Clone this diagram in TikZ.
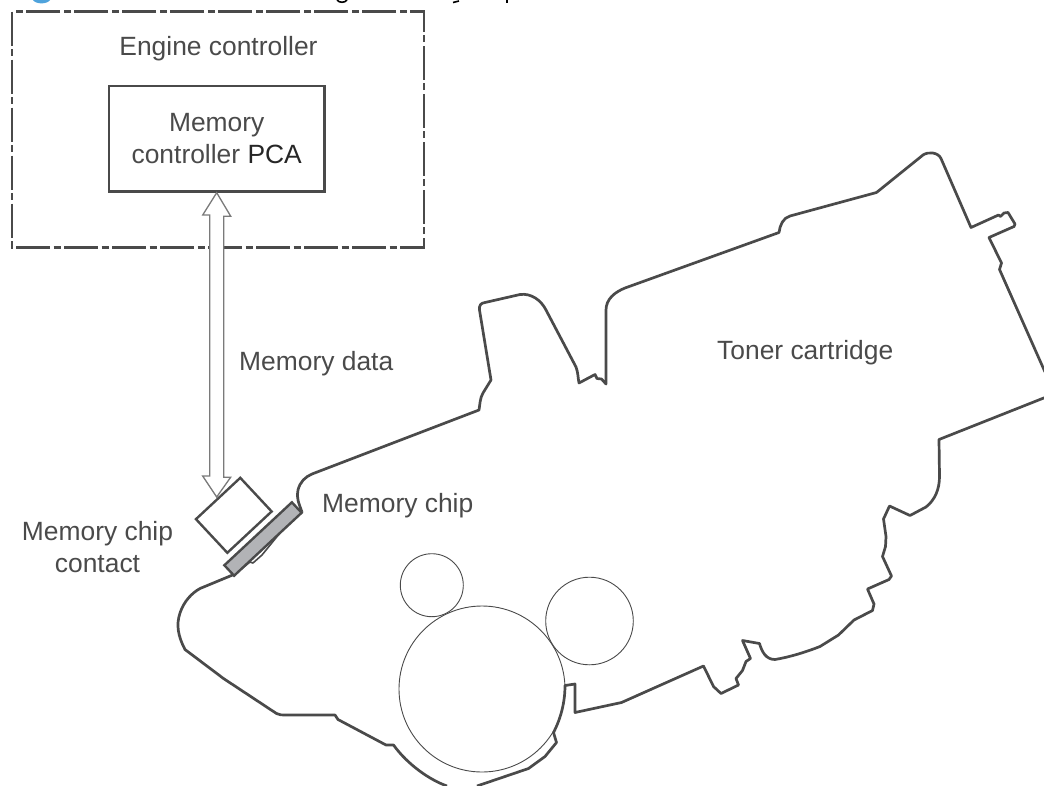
\documentclass[tikz,border=0pt]{standalone}
\usepackage{fontspec}
\setmainfont{Liberation Sans}
\usepackage{xcolor}
\definecolor{inkgray}{HTML}{4A4A4A}
\definecolor{chipgray}{HTML}{B2B3B6}
\definecolor{arrowgray}{HTML}{7A7A7A}
\definecolor{iconblue}{HTML}{4FA3DC}
\tikzset{
	label text/.style={text=inkgray,font=\fontsize{26.4}{32}\selectfont,inner sep=0pt},
	outline/.style={draw=inkgray,line width=2.7pt,line join=round},
	roller/.style={circle,draw=inkgray,line width=0.9pt,inner sep=0pt},
	flow arrow/.style={draw=arrowgray,line width=1.3pt,fill=white,line join=miter},
	engine box/.style={draw=inkgray,line width=2.8pt,dash pattern=on 34pt off 3.5pt on 7pt off 3.5pt},
}
\begin{document}
\begin{tikzpicture}[x=1pt,y=-1pt]
		\useasboundingbox (0,0) rectangle (1044,785);
		\clip (0,0) rectangle (1044,785);
		%
		% remains of the cut off title line
		\fill[iconblue] (33,0) .. controls (36,4.5) and (47,4.5) .. (50,0) -- cycle;
		\draw[black,line width=1.6pt] (337,0) .. controls (339,3) and (345,3) .. (347,0);
		\draw[black,line width=1.6pt] (453,2.5) -- (459,1);
		\draw[black,line width=2pt] (507,0) -- (507,3);
		%
		\draw[engine box] (12,11.5) rectangle (424,247.5);
		\node[label text,anchor=base] (engine) at (218.5,55) {Engine controller};
		\node[label text,draw=inkgray,line width=2.5pt,minimum width=215.5pt,minimum height=105.5pt,align=center] (pca) at (216.7,138.7)
			{Memory\\controller {\color{black!85}PCA}};
		%
		\node[label text,anchor=base west] (data) at (239,370) {Memory data};
		\node[label text,anchor=base west] (toner) at (717,359) {Toner cartridge};
		\node[label text,anchor=base west] (chiplabel) at (322,512) {Memory chip};
		\node[label text,align=center] (contactlabel) at (97.5,547) {Memory chip\\contact};
		%
		% cartridge, upper edge
		\draw[outline] (302,512) .. controls (299,504) and (296,497) .. (298,490)
			.. controls (300,482) and (305,477) .. (312,474) -- (479,410)
			.. controls (480,404) and (480,398) .. (483,393) -- (491,380) -- (479.5,310)
			.. controls (479,305) and (481,303) .. (485,302.5) -- (520,294.5)
			.. controls (531,293) and (541,300) .. (546,310) -- (576,367)
			.. controls (578,372) and (578,378) .. (579,383) -- (595,374.5) -- (597,378.5) -- (601.5,379) -- (606,384)
			-- (606,310) .. controls (606,299) and (615,292) .. (625,288) -- (779,232.5)
			.. controls (780,225) and (783,218) .. (790,216) -- (876.5,192.5) -- (923,155)
			.. controls (928,151.5) and (938,152) .. (941,158.5) -- (971,227.5) -- (998.5,215) -- (1000.5,216.5)
			-- (1004,213) -- (1008,212.5) -- (1015,224) -- (1014,226.5) -- (989,237.5) -- (1001.5,263) -- (999.5,269.5) -- (1045,372);
		% cartridge, lower right edge
		\draw[outline] (1045,397.5) -- (939,439.5) -- (939.5,476.5)
			.. controls (939.5,489) and (935,500) .. (926,507) -- (910,515.5) -- (889.5,506) -- (883.5,519) -- (886,536.5)
			-- (885.5,546.5) -- (882.5,556.5) -- (891.5,576) -- (889,579.5) -- (867.5,589) -- (874,604) -- (872.5,610.5)
			-- (854,620) -- (838.5,635) -- (820,646.5) .. controls (806,652) and (790,657) .. (775,659.5)
			.. controls (766,659.5) and (762,652) .. (759.5,643.5) -- (742.5,640.5) -- (750.5,658.5) -- (746,661.5)
			-- (742.5,670.5) -- (736,678.5) -- (738.5,685) -- (721,693.5) -- (713.5,686.5) -- (703.5,666)
			-- (621.5,702.5) -- (575,712.5) -- (575,684) -- (565,685.5)
			.. controls (565,702) and (561,718) .. (553.5,732.5) -- (556.5,742.5) -- (545,756.5) -- (528.5,768.5) -- (477,786);
		% cartridge, lower left edge
		\draw[outline] (447,786) .. controls (430,780) and (408,765) .. (393.5,745) -- (386,745) -- (338,719.5) -- (335,715)
			-- (285,715) .. controls (282,715) and (279,715) .. (276.5,713.5) -- (223.5,678.5) -- (185,649.5)
			.. controls (178,636) and (176,625) .. (180,613) .. controls (184,601) and (192,593) .. (200,588.5) -- (235,574);
		\draw[outline,line width=1.6pt] (240,570) -- (250,562) -- (253,563) -- (262,555) -- (297,512);
		%
		\node[draw=inkgray,line width=2.4pt,fill=chipgray,minimum width=92.3pt,minimum height=14.3pt,inner sep=0pt,rotate=43] (chip) at (263,539) {};
		\node[draw=inkgray,line width=2.4pt,minimum width=60.6pt,minimum height=46pt,inner sep=0pt,rotate=43] (contact) at (233.8,515.3) {};
		%
		\coordinate (datatip) at (216.7,497);
		\draw[flow arrow] (pca.south) -- ++(14,23.5) -- ++(-7,0) -- ++(0,261) -- ++(7,0) -- (datatip)
			-- ++(-14,-21) -- ++(7,0) -- ++(0,-261) -- ++(-7,0) -- cycle;
		%
		\node[roller,minimum size=63pt] (rollerleft) at (431.8,585.2) {};
		\node[roller,minimum size=87.6pt] (rollerright) at (589.5,621) {};
		\node[roller,minimum size=166pt] (drum) at (482,689) {};
		\end{tikzpicture}
\end{document}
